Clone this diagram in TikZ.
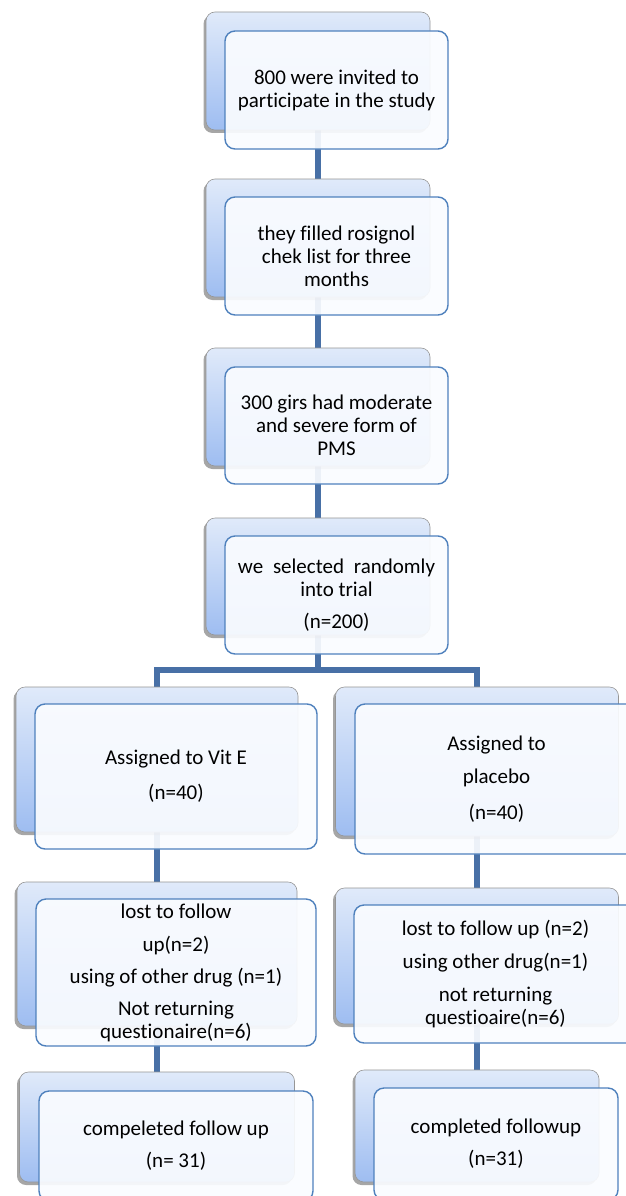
\documentclass[tikz,border=0pt]{standalone}
\usepackage{fontspec}
\setmainfont[Ligatures=NoCommon]{Carlito}
\usetikzlibrary{shadows,backgrounds}

\definecolor{backtop}{RGB}{224,234,250}
\definecolor{backbot}{RGB}{158,189,241}
\definecolor{backline}{RGB}{150,150,150}
\definecolor{frontfill}{RGB}{250,252,255}
\definecolor{frontline}{RGB}{79,129,189}
\definecolor{linkblue}{RGB}{72,112,166}

\begin{document}
\begin{tikzpicture}[x=1pt,y=-1pt,
  back/.style={draw=backline, line width=0.6pt, rounded corners=9pt,
    top color=backtop, bottom color=backbot, inner sep=0pt,
    drop shadow={shadow xshift=-2.5pt, shadow yshift=-3pt, fill=black, opacity=0.35}},
  front/.style={draw=frontline, line width=1.4pt, rounded corners=10pt,
    fill=frontfill, fill opacity=0.92, text opacity=1, inner sep=0pt,
    align=center, font=\fontsize{21}{23}\selectfont},
  link/.style={draw=linkblue, line width=5.5pt}]
\useasboundingbox (0,0) rectangle (625,1196);

% centre column
\node[back, minimum width=224pt, minimum height=118pt] (b1) at (318,71) {};
\node[front, minimum width=223pt, minimum height=118pt] (f1) at (336.5,90)
  {800 were invited to\\participate in the study};
\node[back, minimum width=224pt, minimum height=118pt] (b2) at (318,238) {};
\node[front, minimum width=223pt, minimum height=118pt] (f2) at (336.5,256)
  {they filled rosignol\\chek list for three\\months};
\node[back, minimum width=224pt, minimum height=118pt] (b3) at (318,407) {};
\node[front, minimum width=223pt, minimum height=117pt] (f3) at (336.5,425.5)
  {300 girs had moderate\\and severe form of\\PMS};
\node[back, minimum width=224pt, minimum height=117pt] (b4) at (318,576.5) {};
\node[front, minimum width=223pt, minimum height=118pt] (f4) at (336.5,595)
  {we\hspace{5pt} selected\hspace{5pt} randomly\\into trial\\[9pt](n=200)};

% left arm (Vit E)
\node[back, minimum width=282pt, minimum height=145pt] (l1) at (157,759.5) {};
\node[front, minimum width=282pt, minimum height=145pt] (lf1) at (176,776.5)
  {Assigned to Vit E\\[12pt](n=40)};
\node[back, minimum width=280pt, minimum height=144pt] (l2) at (157,954) {};
\node[front, minimum width=280pt, minimum height=147pt] (lf2) at (176,972.5)
  {lost to follow\\[10pt]up(n=2)\\[9pt]using of other drug (n=1)\\[9pt]Not returning\\questionaire(n=6)};
\node[back, minimum width=275pt, minimum height=110pt] (l3) at (157,1127) {};
\node[front, minimum width=274pt, minimum height=110pt] (lf3) at (176,1146)
  {compeleted follow up\\[9pt](n= 31)};

% right arm (placebo)
\node[back, minimum width=283pt, minimum height=149pt] (r1) at (477,761.5) {};
\node[front, minimum width=283pt, minimum height=150pt] (rf1) at (496.5,779)
  {Assigned to\\[10pt]placebo\\[13pt](n=40)};
\node[back, minimum width=283pt, minimum height=136pt] (r2) at (477,956) {};
\node[front, minimum width=283pt, minimum height=138pt] (rf2) at (495.5,974)
  {lost to follow up (n=2)\\[10pt]using other drug(n=1)\\[10pt]not returning\\questioaire(n=6)};
\node[back, minimum width=244pt, minimum height=112pt] (r3) at (477,1126) {};
\node[front, minimum width=244pt, minimum height=112pt] (rf3) at (496,1144)
  {completed followup\\[9pt](n=31)};

\coordinate (split) at (318,670);

\begin{scope}[on background layer]
\fill[white] (0,0) rectangle (625,1196);
\draw[link] (b1) -- (b2);
\draw[link] (b2) -- (b3);
\draw[link] (b3) -- (b4);
\draw[link] (b4) -- (split);
\draw[link] (split) -| (l1);
\draw[link] (split) -| (r1);
\draw[link] (l1) -- (l2);
\draw[link] (l2) -- (l3);
\draw[link] (r1) -- (r2);
\draw[link] (r2) -- (r3);
\end{scope}

\end{tikzpicture}
\end{document}
